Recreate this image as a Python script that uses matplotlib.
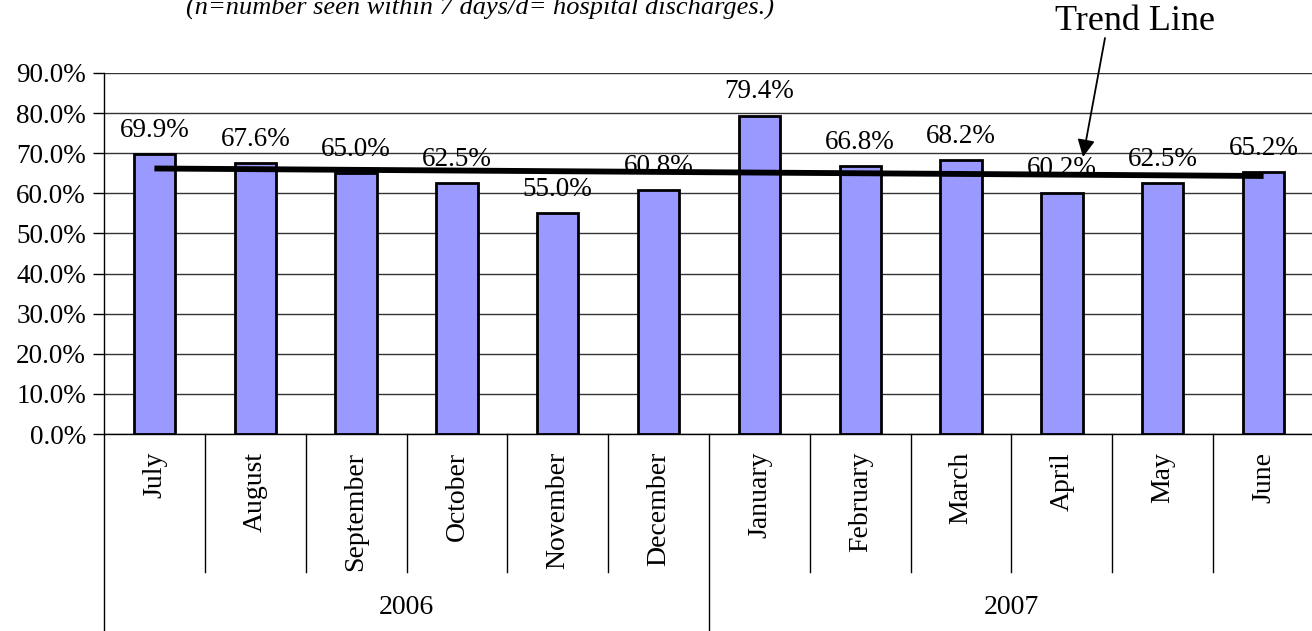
import numpy as np
from matplotlib import pyplot as plt
from matplotlib.ticker import PercentFormatter

# data
months = ['July', 'August', 'September', 'October', 'November', 'December',
          'January', 'February', 'March', 'April', 'May', 'June']
values = [69.9, 67.6, 65.0, 62.5, 55.0, 60.8, 79.4, 66.8, 68.2, 60.2, 62.5, 65.2]
years = ['2006', '2007']
months_per_year = [6, 6]
yticks = np.arange(0, 91, 10)
subtitle = '(n=number seen within 7 days/d= hospital discharges.)'

plt.rcParams['font.family'] = ['Liberation Serif', 'DejaVu Serif']

fig = plt.figure(figsize=(13.12, 6.31), dpi=100)
ax = fig.add_axes([104 / 1312, 1 - 434 / 631, 1210 / 1312, 361 / 631])

x = np.arange(len(months))
ax.bar(x, values, width=0.41, color='#9999FF', edgecolor='black', linewidth=2, zorder=2)

# linear trend line
slope, icpt = np.polyfit(x, values, 1)
ax.plot(x, slope * x + icpt, color='black', linewidth=4.2, zorder=4, solid_capstyle='butt')

for xi, v in zip(x, values):
    ax.annotate(f'{v:.1f}%', (xi, v), xytext=(0, 8), textcoords='offset points',
                ha='center', va='bottom', fontsize=19.5, zorder=3)

ax.set_xlim(-0.5, len(months) - 0.5)
ax.set_ylim(0, 90)
ax.set_yticks(yticks)
ax.yaxis.set_major_formatter(PercentFormatter(decimals=1))
ax.tick_params(axis='y', labelsize=19.5, length=8, width=1, direction='out', pad=5)
ax.set_xticks([])
ax.grid(axis='y', color='#333333', linewidth=1, zorder=0)
ax.set_axisbelow(True)
for s in ['top', 'right']:
    ax.spines[s].set_visible(False)
ax.spines['left'].set_linewidth(1)
ax.spines['bottom'].set_linewidth(1)

# multi-level category axis
trans = ax.get_xaxis_transform()
month_bottom = -(572 - 434) / 361
year_bottom = -(640 - 434) / 361
for xi, m in zip(x, months):
    ax.text(xi, -18 / 361, m, rotation=90, ha='center', va='top', fontsize=20,
            transform=trans)
start = 0
group_edges = [-0.5]
for yr, n in zip(years, months_per_year):
    ax.text(start + (n - 1) / 2, -(608 - 434) / 361, yr, ha='center', va='center',
            fontsize=20, transform=trans)
    start += n
    group_edges.append(start - 0.5)
for b in np.arange(-0.5, len(months), 1.0):
    bottom = year_bottom if b in group_edges else month_bottom
    ax.plot([b, b], [0, bottom], color='black', linewidth=1, transform=trans, clip_on=False)

fig.text(480 / 1312, 1 - 8 / 631, subtitle, ha='center', va='center', fontsize=19,
         style='italic')

fig.text(1135 / 1312, 1 - 22 / 631, 'Trend Line', ha='center', va='center', fontsize=26)
ax.annotate('', xy=(1083 / 1312, 1 - 157 / 631), xycoords='figure fraction',
            xytext=(1105 / 1312, 1 - 38 / 631), textcoords='figure fraction',
            arrowprops=dict(arrowstyle='-|>', color='black', lw=1.3,
                            mutation_scale=26, shrinkA=0, shrinkB=0))

fig.savefig('out.png', dpi=100)
